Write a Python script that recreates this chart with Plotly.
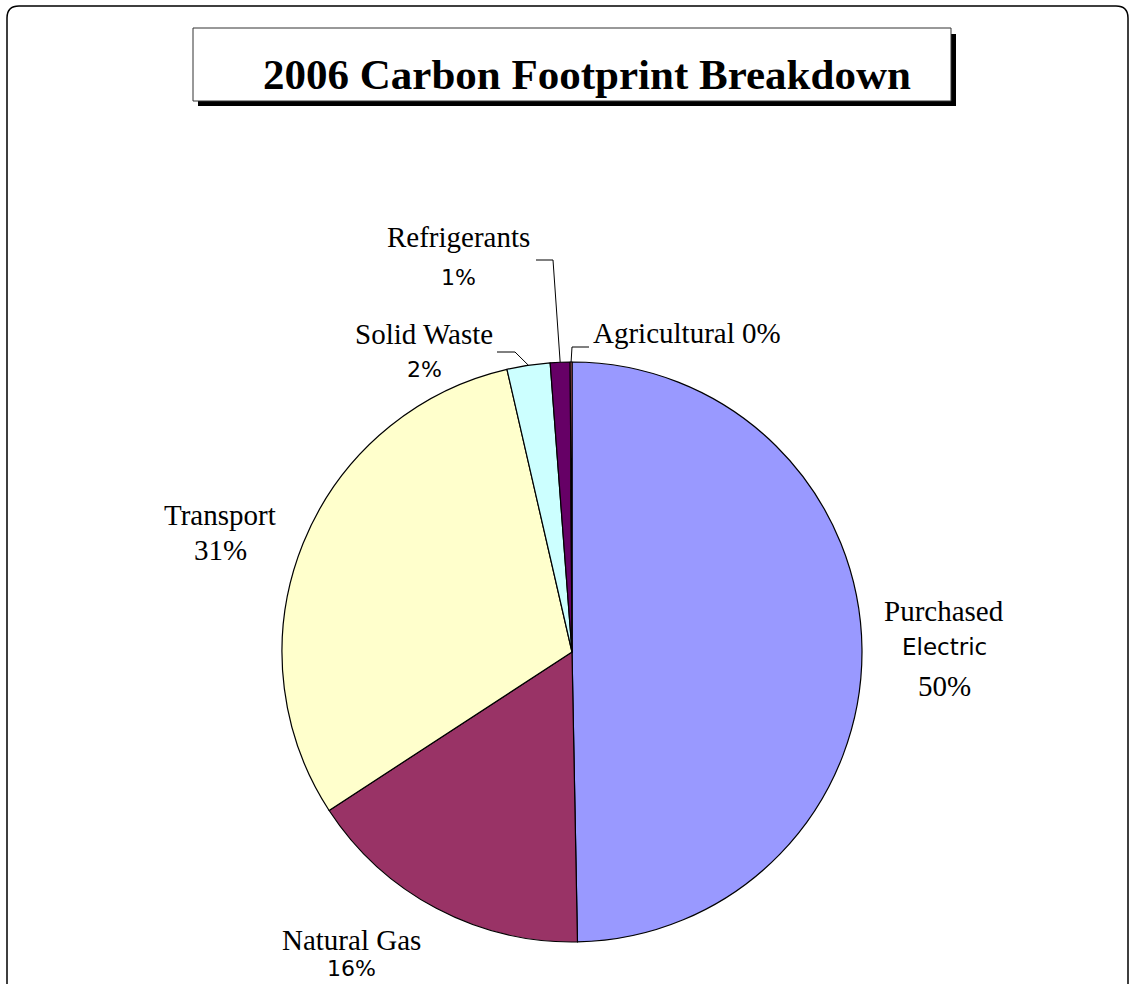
import math
import plotly.graph_objects as go

# Emission sources and their share of the 2006 footprint (percent)
categories = ["Purchased Electric", "Natural Gas", "Transport", "Solid Waste",
              "Refrigerants", "Agricultural"]
shares = [49.7, 16.1, 30.6, 2.4, 1.1, 0.1]
slice_colors = ["#9999FF", "#993366", "#FFFFCC", "#CCFFFF", "#660066", "#FF8080"]

W, H = 1135, 984
SERIF = "Liberation Serif"
CASUAL = "DejaVu Sans"
SERIF_SIZE = 29
CASUAL_SIZE = 23

# pie placement in pixels
CX, CY, R = 572, 652, 290


def px(x):
    return x / W


def py(y):
    return 1 - y / H


total = sum(shares)
pct = [f"{round(v / total * 100)}%" for v in shares]

# mid-angle (clockwise from 12 o'clock) of every slice, used for leader lines
mid_angles = []
cum = 0.0
for v in shares:
    mid_angles.append((cum + v / 2) / total * 2 * math.pi)
    cum += v


def edge_point(i):
    a = mid_angles[i]
    return CX + R * math.sin(a), CY - R * math.cos(a)


fig = go.Figure(go.Pie(
    labels=categories,
    values=shares,
    sort=False,
    direction="clockwise",
    rotation=0,
    marker=dict(colors=slice_colors, line=dict(color="black", width=1.2)),
    textinfo="none",
    hoverinfo="label+percent",
    showlegend=False,
    domain=dict(x=[px(CX - R), px(CX + R)], y=[py(CY + R), py(CY - R)]),
))

shapes = []
# rounded outer frame (bottom edge runs off the page)
shapes.append(dict(
    type="path", xref="paper", yref="paper",
    path=(f"M {px(7)},{py(1000)} L {px(7)},{py(18)} "
          f"Q {px(7)},{py(6)} {px(19)},{py(6)} L {px(1116)},{py(6)} "
          f"Q {px(1128)},{py(6)} {px(1128)},{py(18)} L {px(1128)},{py(1000)}"),
    line=dict(color="black", width=1.5)))
# title box with drop shadow
shapes.append(dict(type="rect", xref="paper", yref="paper",
                   x0=px(198), x1=px(956), y0=py(34), y1=py(106),
                   fillcolor="black", line=dict(width=0)))
shapes.append(dict(type="rect", xref="paper", yref="paper",
                   x0=px(193), x1=px(951), y0=py(28), y1=py(101),
                   fillcolor="white", line=dict(color="#333333", width=1)))

# leader lines: label elbow -> slice edge
leaders = {
    3: [(497, 352), (515, 352)],   # Solid Waste
    4: [(536, 260), (553, 260)],   # Refrigerants
    5: [(589, 347), (572, 347)],   # Agricultural
}
for i, pts in leaders.items():
    ex, ey = edge_point(i)
    pts = pts + [(ex, ey)]
    path = "M " + " L ".join(f"{px(x)},{py(y)}" for x, y in pts)
    shapes.append(dict(type="path", xref="paper", yref="paper", path=path,
                       line=dict(color="black", width=1)))

fig.update_layout(shapes=shapes)

annotations = []


def add_text(text, x, y, family, size, weight="normal", yanchor="middle"):
    annotations.append(dict(
        text=text, x=px(x), y=py(y), xref="paper", yref="paper",
        xanchor="center", yanchor=yanchor, showarrow=False,
        font=dict(family=family, size=size, color="black", weight=weight)))


add_text("2006 Carbon Footprint Breakdown", 587, 74, SERIF, 43, "bold")

add_text("Purchased", 944, 611, SERIF, SERIF_SIZE)
add_text("Electric", 944, 647, CASUAL, CASUAL_SIZE)
add_text(pct[0], 944, 686, SERIF, SERIF_SIZE)

add_text("Natural Gas", 351, 940, SERIF, SERIF_SIZE)
add_text(pct[1], 351, 983, CASUAL, CASUAL_SIZE - 1, yanchor="bottom")

add_text("Transport", 220, 515, SERIF, SERIF_SIZE)
add_text(pct[2], 220, 550, SERIF, SERIF_SIZE)

add_text("Solid Waste", 424, 334, SERIF, SERIF_SIZE)
add_text(pct[3], 424, 370, CASUAL, CASUAL_SIZE - 1)

add_text("Refrigerants", 458, 237, SERIF, SERIF_SIZE)
add_text(pct[4], 458, 278, CASUAL, CASUAL_SIZE - 1)

add_text(f"Agricultural {pct[5]}", 687, 333, SERIF, SERIF_SIZE)

fig.update_layout(
    annotations=annotations,
    width=W, height=H,
    margin=dict(l=0, r=0, t=0, b=0),
    paper_bgcolor="white",
    plot_bgcolor="white",
)

fig.write_html("out.html", config={"displayModeBar": False})
